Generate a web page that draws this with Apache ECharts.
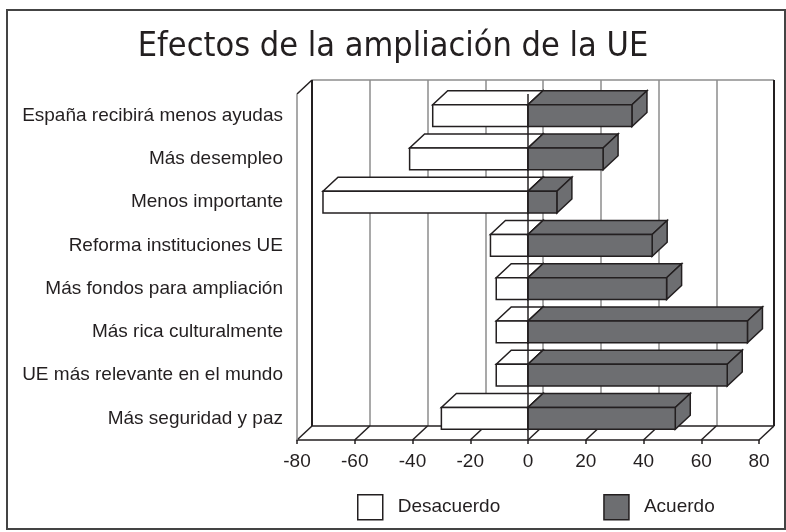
<!DOCTYPE html>
<html>
<head>
<meta charset="utf-8">
<script src="https://cdn.jsdelivr.net/npm/echarts@6/dist/echarts.min.js"></script>
<style>
  html, body { margin: 0; padding: 0; background: #fff; }
  #main { width: 786px; height: 532px; }
</style>
</head>
<body>
<div id="main"></div>
<script>
// datos
var categories = [
    'España recibirá menos ayudas',
    'Más desempleo',
    'Menos importante',
    'Reforma instituciones UE',
    'Más fondos para ampliación',
    'Más rica culturalmente',
    'UE más relevante en el mundo',
    'Más seguridad y paz'
];
var desacuerdo = [-33, -41, -71, -13, -11, -11, -11, -30];
var acuerdo = [36, 26, 10, 43, 48, 76, 69, 51];
var xMin = -80, xMax = 80, xStep = 20;

// desplazamiento de profundidad (efecto 3D)
var DX = 15, DY = -14;
var INK = '#231f20';
var DARK = '#6d6e71';
var GRIDC = '#8c8c8c';

function line(x1, y1, x2, y2, color, w) {
    return {
        type: 'line',
        shape: { x1: x1, y1: y1, x2: x2, y2: y2 },
        style: { stroke: color, lineWidth: w }
    };
}

// caja 3D: cara frontal, superior y lateral derecha
function renderBar(params, api) {
    var val = api.value(0);
    var cat = api.value(1);
    var p0 = api.coord([0, cat]);
    var p1 = api.coord([val, cat]);
    var h = api.size([0, 1])[1] * 0.5;
    var x0 = Math.min(p0[0], p1[0]);
    var x1 = Math.max(p0[0], p1[0]);
    var yT = p0[1] - h / 2;
    var yB = p0[1] + h / 2;
    var st = { fill: api.visual('color'), stroke: INK, lineWidth: 1.5, lineJoin: 'miter' };
    return {
        type: 'group',
        children: [
            { type: 'polygon', shape: { points: [[x0, yT], [x1, yT], [x1 + DX, yT + DY], [x0 + DX, yT + DY]] }, style: st },
            { type: 'polygon', shape: { points: [[x1, yT], [x1 + DX, yT + DY], [x1 + DX, yB + DY], [x1, yB]] }, style: st },
            { type: 'rect', shape: { x: x0, y: yT, width: x1 - x0, height: yB - yT }, style: st }
        ]
    };
}

// paredes y suelo
function renderFrame(params, api) {
    var cs = params.coordSys;
    var left = cs.x, right = cs.x + cs.width, top = cs.y, bottom = cs.y + cs.height;
    var ch = [];
    for (var t = xMin; t <= xMax; t += xStep) {
        var x = api.coord([t, 0])[0];
        ch.push(line(x, bottom, x + DX, bottom + DY, INK, 1.5));
    }
    ch.push(line(left + DX, top + DY, right + DX, top + DY, GRIDC, 1.5));
    ch.push(line(left + DX, bottom + DY, right + DX, bottom + DY, INK, 1.5));
    ch.push(line(left + DX, top + DY, left + DX, bottom + DY, INK, 2));
    ch.push(line(right + DX, top + DY, right + DX, bottom + DY, INK, 2));
    ch.push(line(left, top, left + DX, top + DY, INK, 1.5));
    ch.push(line(left, top, left, bottom, GRIDC, 1.5));
    return { type: 'group', children: ch };
}

var myChart = echarts.init(document.getElementById('main'));

var labelFont = { fontFamily: 'Liberation Sans', fontSize: 19, color: INK };

option = {
    animation: false,
    title: {
        text: 'Efectos de la ampliación de la UE',
        left: 'center',
        top: 25,
        textStyle: { fontFamily: 'DejaVu Sans Condensed', fontSize: 34, fontWeight: 'normal', color: INK }
    },
    legend: {
        left: 357,
        top: 494,
        padding: 0,
        itemWidth: 25,
        itemHeight: 25,
        itemGap: 103,
        selectedMode: false,
        textStyle: { fontFamily: 'Liberation Sans', fontSize: 19, color: INK, padding: [0, 0, 0, 10] },
        data: [
            { name: 'Desacuerdo', icon: 'rect', itemStyle: { color: '#fff', borderColor: INK, borderWidth: 1.5 } },
            { name: 'Acuerdo', icon: 'rect', itemStyle: { color: DARK, borderColor: INK, borderWidth: 1.5 } }
        ]
    },
    graphic: [{
        type: 'rect',
        shape: { x: 7, y: 10, width: 778, height: 519 },
        style: { fill: 'none', stroke: '#444', lineWidth: 2 },
        silent: true
    }],
    grid: [
        { left: 297, right: 27, top: 94, bottom: 92 },
        { left: 297 + DX, right: 27 - DX, top: 94 + DY, bottom: 92 - DY }
    ],
    xAxis: [{
        gridIndex: 0,
        type: 'value',
        min: xMin, max: xMax, interval: xStep,
        axisLine: { show: true, lineStyle: { color: INK, width: 1.5 } },
        axisTick: { show: true, length: 4, lineStyle: { color: INK, width: 1.5 } },
        axisLabel: { margin: 12, fontFamily: 'Liberation Sans', fontSize: 19, color: INK },
        splitLine: { show: false }
    }, {
        gridIndex: 1,
        type: 'value',
        min: xMin, max: xMax, interval: xStep,
        axisLine: { show: false },
        axisTick: { show: false },
        axisLabel: { show: false },
        splitLine: { show: true, lineStyle: { color: GRIDC, width: 1.5 } }
    }],
    yAxis: [{
        gridIndex: 0,
        type: 'category',
        inverse: true,
        data: categories,
        axisLine: { show: false },
        axisTick: { show: false },
        axisLabel: Object.assign({ margin: 14 }, labelFont)
    }, {
        gridIndex: 1,
        type: 'value',
        show: false
    }],
    series: [{
        type: 'custom',
        name: 'marco',
        xAxisIndex: 0, yAxisIndex: 0,
        z: 1,
        silent: true,
        renderItem: renderFrame,
        data: [[0, categories[0]]]
    }, {
        type: 'custom',
        name: 'Desacuerdo',
        xAxisIndex: 0, yAxisIndex: 0,
        z: 3,
        itemStyle: { color: '#fff' },
        renderItem: renderBar,
        encode: { x: 0, y: 1 },
        data: categories.map(function (c, i) { return [desacuerdo[i], c]; })
    }, {
        type: 'custom',
        name: 'Acuerdo',
        xAxisIndex: 0, yAxisIndex: 0,
        z: 4,
        itemStyle: { color: DARK },
        renderItem: renderBar,
        encode: { x: 0, y: 1 },
        data: categories.map(function (c, i) { return [acuerdo[i], c]; }),
        markLine: {
            silent: true,
            symbol: 'none',
            label: { show: false },
            lineStyle: { color: INK, width: 1.5, type: 'solid' },
            z: 10,
            data: [{ xAxis: 0 }]
        }
    }]
};
myChart.setOption(option);
</script>
</body>
</html>
